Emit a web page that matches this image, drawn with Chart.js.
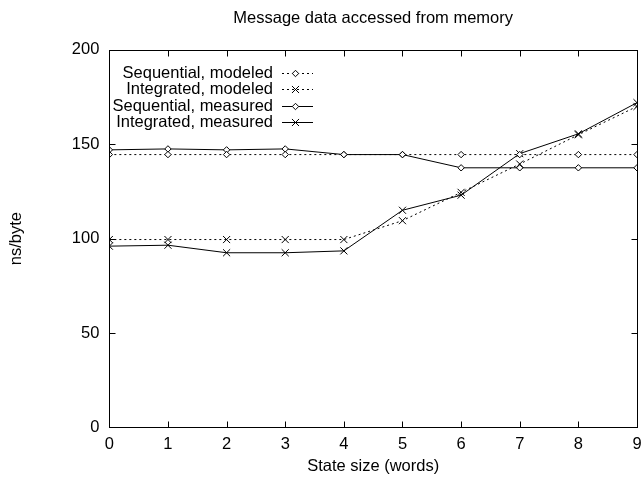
<!DOCTYPE html>
<html>
<head>
<meta charset="utf-8">
<script src="https://cdn.jsdelivr.net/npm/chart.js@4/dist/chart.umd.min.js"></script>
<style>
  html, body { margin: 0; padding: 0; background: #fff; }
  #wrap { width: 643px; height: 488px; }
</style>
</head>
<body>
<div id="wrap"><canvas id="myChart"></canvas></div>
<script>
// chart values
const stateSizes = [0, 1, 2, 3, 4, 5, 6, 7, 8, 9];
const seqModeled = [144.5, 144.5, 144.5, 144.5, 144.5, 144.5, 144.5, 144.5, 144.5, 144.5];
const intModeled = [99.5, 99.5, 99.5, 99.5, 99.5, 109.5, 124.5, 139.5, 155, 170];
const seqMeasured = [147, 147.5, 147, 147.5, 144.5, 144.5, 137.5, 137.5, 137.5, 137.5];
const intMeasured = [96, 96.5, 92.5, 92.5, 93.5, 115, 123, 145, 155.5, 172];
const seriesNames = ["Sequential, modeled", "Integrated, modeled", "Sequential, measured", "Integrated, measured"];
const yTicks = [0, 50, 100, 150, 200];

const FONT = "'Liberation Sans', Arial, sans-serif";
const ctx = document.getElementById("myChart").getContext("2d");

function pts(ys) {
  return stateSizes.map((x, i) => ({ x: x, y: ys[i] }));
}

function series(label, ys, dotted, style) {
  return {
    label: label,
    data: pts(ys),
    borderColor: "#000",
    backgroundColor: "#fff",
    borderWidth: 1,
    borderDash: dotted ? [2, 3] : [],
    pointStyle: style,
    pointRadius: style === "crossRot" ? 5 : 3.2,
    pointBorderColor: "#000",
    pointBackgroundColor: "#fff",
    pointBorderWidth: 1,
    tension: 0,
    fill: false,
  };
}

const datasets = [
  series(seriesNames[0], seqModeled, true, "rectRot"),
  series(seriesNames[1], intModeled, true, "crossRot"),
  series(seriesNames[2], seqMeasured, false, "rectRot"),
  series(seriesNames[3], intMeasured, false, "crossRot"),
];

// center the title over the plot area instead of the whole canvas
const titleOverPlot = {
  id: "titleOverPlot",
  afterLayout(chart) {
    if (chart.titleBlock) {
      chart.titleBlock.left = chart.chartArea.left;
      chart.titleBlock.right = chart.chartArea.right;
    }
  }
};

// frame with inward ticks on all four sides, gnuplot style
const framePlugin = {
  id: "frame",
  afterDatasetsDraw(chart) {
    const c = chart.ctx;
    const a = chart.chartArea;
    const xs = chart.scales.x, ys = chart.scales.y;
    const L = Math.round(a.left) + 0.5, R = Math.round(a.right) + 0.5;
    const T = Math.round(a.top) + 0.5, B = Math.round(a.bottom) + 0.5;
    c.save();
    c.strokeStyle = "#000";
    c.lineWidth = 1;
    c.setLineDash([]);
    c.beginPath();
    xs.ticks.forEach(t => {
      const px = Math.round(xs.getPixelForValue(t.value)) + 0.5;
      c.moveTo(px, B); c.lineTo(px, B - 6);
      c.moveTo(px, T); c.lineTo(px, T + 6);
    });
    ys.ticks.forEach(t => {
      const py = Math.round(ys.getPixelForValue(t.value)) + 0.5;
      c.moveTo(L, py); c.lineTo(L + 6, py);
      c.moveTo(R, py); c.lineTo(R - 6, py);
    });
    c.stroke();
    c.strokeRect(L, T, R - L, B - T);
    c.restore();
  }
};

// legend inside the plot: right-aligned text, sample line + marker on the right
const keyPlugin = {
  id: "key",
  afterDraw(chart) {
    const c = chart.ctx;
    const textRight = 273, lineL = 282, lineR = 313, first = 73, step = 16.3;
    c.save();
    c.font = "16.5px " + FONT;
    c.textAlign = "right";
    c.textBaseline = "middle";
    c.fillStyle = "#000";
    chart.data.datasets.forEach((ds, i) => {
      const y = Math.round(first + i * step) + 0.5;
      c.fillText(ds.label, textRight, y);
      c.strokeStyle = "#000";
      c.lineWidth = 1;
      c.setLineDash(ds.borderDash);
      c.beginPath();
      c.moveTo(lineL, y); c.lineTo(lineR, y);
      c.stroke();
      c.setLineDash([]);
      c.fillStyle = "#fff";
      Chart.helpers.drawPoint(c, {
        pointStyle: ds.pointStyle,
        radius: ds.pointRadius,
        rotation: 0,
        borderWidth: 1,
      }, (lineL + lineR) / 2 - 2, y);
      c.fillStyle = "#000";
    });
    c.restore();
  }
};

new Chart(ctx, {
  type: "line",
  data: { datasets: datasets },
  options: {
    responsive: true,
    maintainAspectRatio: false,
    animation: false,
    events: [],
    layout: { padding: { left: 0, right: 0, top: 0, bottom: 0 } },
    plugins: {
      legend: { display: false },
      tooltip: { enabled: false },
      title: {
        display: true,
        text: "Message data accessed from memory",
        color: "#000",
        font: { family: FONT, size: 16.5, weight: "normal" },
        padding: { top: 9, bottom: 21 },
      },
    },
    scales: {
      x: {
        type: "linear",
        min: 0,
        max: 9,
        afterFit: axis => { axis.paddingRight = 6; },
        grid: { display: false, drawTicks: false },
        border: { display: false },
        ticks: {
          stepSize: 1,
          padding: 7,
          color: "#000",
          font: { family: FONT, size: 16.5 },
          maxRotation: 0,
        },
        title: {
          display: true,
          text: "State size (words)",
          color: "#000",
          font: { family: FONT, size: 16.5 },
          padding: { top: -5, bottom: 12 },
        },
      },
      y: {
        min: 0,
        max: 200,
        afterBuildTicks: axis => { axis.ticks = yTicks.map(v => ({ value: v })); },
        grid: { display: false, drawTicks: false },
        border: { display: false },
        ticks: {
          padding: 10,
          color: "#000",
          font: { family: FONT, size: 16.5 },
        },
        title: {
          display: true,
          text: "ns/byte",
          color: "#000",
          font: { family: FONT, size: 16.5 },
          padding: { top: 7, bottom: 35 },
        },
      },
    },
  },
  plugins: [titleOverPlot, framePlugin, keyPlugin],
});
</script>
</body>
</html>
